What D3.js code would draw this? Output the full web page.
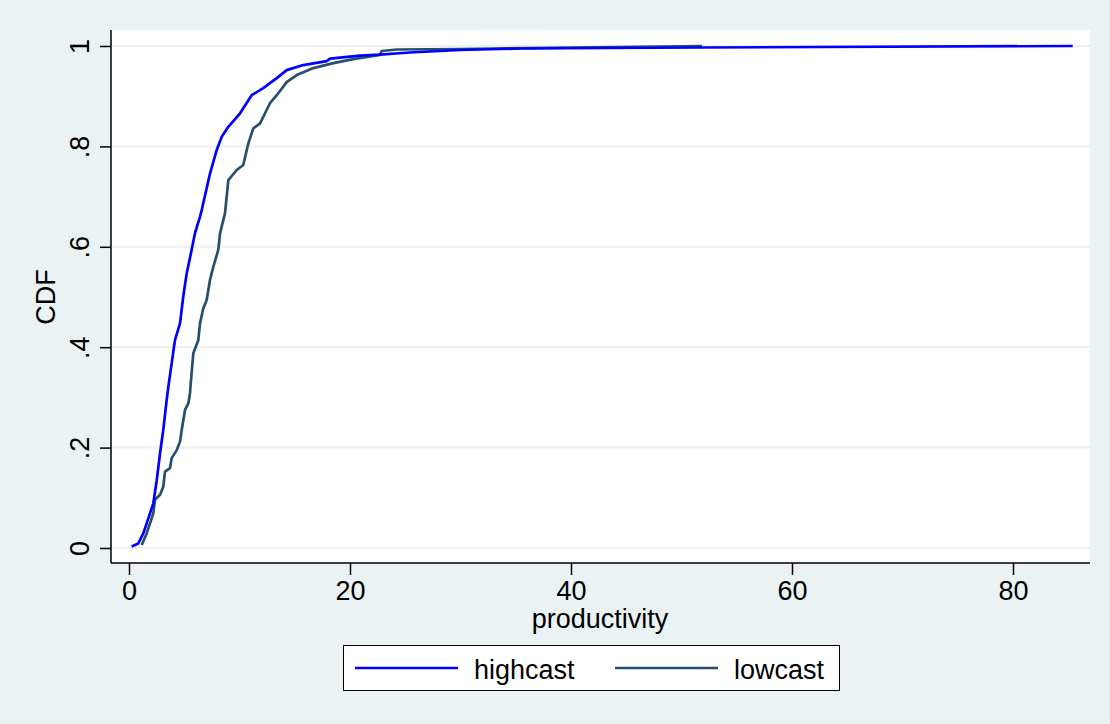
<!DOCTYPE html>
<html><head><meta charset="utf-8">
<script src="https://cdn.jsdelivr.net/npm/d3@7"></script>
<style>body{margin:0;background:#EAF2F3;}svg{display:block;}text{font-family:"Liberation Sans",Arial,sans-serif;fill:#000;}</style>
</head><body>
<svg id="c" width="1110" height="724"></svg>
<script>
const seriesNames = ["highcast", "lowcast"];
const seriesColors = ["#0000FF", "#284E6E"];
const xTicks = [0, 20, 40, 60, 80];
const yTicks = [0, 0.2, 0.4, 0.6, 0.8, 1];
const yTickLabels = ["0", ".2", ".4", ".6", ".8", "1"];
const highcastX = [0.24,0.84,1.29,1.60,1.90,2.20,2.51,2.81,3.10,3.41,3.56,4.16,4.62,4.91,5.22,5.67,5.97,6.43,6.58,7.33,7.94,8.39,8.99,10.05,11.10,12.15,13.37,14.27,15.77,17.89,18.19,20.9,22.7,25.4,29.95,35.4,51.7,85.4];
const highcastY = [0.003,0.009,0.029,0.049,0.069,0.089,0.135,0.189,0.235,0.295,0.321,0.414,0.448,0.501,0.547,0.594,0.627,0.660,0.673,0.746,0.793,0.819,0.839,0.866,0.902,0.916,0.936,0.952,0.962,0.970,0.975,0.981,0.983,0.987,0.992,0.995,0.997,1.0];
const lowcastX = [1.15,1.60,1.90,2.20,2.35,2.81,3.10,3.26,3.71,3.86,4.32,4.62,4.77,5.07,5.37,5.52,5.55,5.82,6.27,6.43,6.72,7.03,7.33,7.63,8.08,8.24,8.69,8.99,9.75,10.34,10.80,11.25,11.86,12.31,12.76,13.37,14.27,15.18,16.68,18.49,20.30,22.71,22.87,24.23,29.95,51.86];
const lowcastY = [0.006,0.029,0.049,0.069,0.096,0.106,0.122,0.152,0.159,0.179,0.195,0.212,0.235,0.275,0.288,0.308,0.318,0.388,0.414,0.448,0.477,0.494,0.534,0.560,0.594,0.627,0.667,0.733,0.753,0.763,0.806,0.836,0.846,0.866,0.886,0.902,0.928,0.942,0.956,0.966,0.974,0.982,0.990,0.993,0.994,1.0];

const FS = 27;
const svg = d3.select("#c");
const plot = {l:111, r:1090, t:30, b:563};
const x = d3.scaleLinear().domain([0, 80]).range([129, 1013]);
const y = d3.scaleLinear().domain([0, 1]).range([548, 46]);

svg.append("rect").attr("x",plot.l).attr("y",plot.t).attr("width",plot.r-plot.l).attr("height",plot.b-plot.t).attr("fill","#fff");

// gridlines
svg.append("g").selectAll("line").data(yTicks).join("line")
  .attr("x1",plot.l).attr("x2",plot.r).attr("y1",d=>y(d)).attr("y2",d=>y(d))
  .attr("stroke","#EAF2F3").attr("stroke-width",2);

// axes
const yAxis = d3.axisLeft(y).tickValues(yTicks).tickSize(11).tickFormat((d,i)=>yTickLabels[i]);
const gy = svg.append("g").attr("transform",`translate(${plot.l},0)`).call(yAxis);
gy.select(".domain").attr("d",`M0,${plot.t}V${plot.b}`).attr("stroke","#000").attr("stroke-width",1.5);
gy.selectAll(".tick line").attr("stroke","#000").attr("stroke-width",1.5);
gy.selectAll(".tick text").attr("font-size",FS).attr("font-family","Liberation Sans, Arial, sans-serif")
  .attr("text-anchor","middle").attr("x",0).attr("dy",0)
  .attr("transform","translate(-22,0) rotate(-90)");

const xAxis = d3.axisBottom(x).tickValues(xTicks).tickSize(12).tickFormat(d3.format("d"));
const gx = svg.append("g").attr("transform",`translate(0,${plot.b})`).call(xAxis);
gx.select(".domain").attr("d",`M${plot.l},0H${plot.r}`).attr("stroke","#000").attr("stroke-width",1.5);
gx.selectAll(".tick line").attr("stroke","#000").attr("stroke-width",1.5);
gx.selectAll(".tick text").attr("font-size",FS).attr("font-family","Liberation Sans, Arial, sans-serif")
  .attr("y",37).attr("dy",0);

// axis titles
svg.append("text").attr("transform","translate(55,297) rotate(-90)").attr("text-anchor","middle")
  .attr("font-size",FS).text("CDF");
svg.append("text").attr("x",600).attr("y",628).attr("text-anchor","middle")
  .attr("font-size",FS).text("productivity");

// lines
const series = [
  highcastX.map((d,i)=>[d, highcastY[i]]),
  lowcastX.map((d,i)=>[d, lowcastY[i]])
];
const line = d3.line().x(d=>x(d[0])).y(d=>y(d[1]));
svg.append("g").selectAll("path").data([1,0]).join("path")
  .attr("d",i=>line(series[i])).attr("fill","none")
  .attr("stroke",i=>seriesColors[i]).attr("stroke-width",2.7).attr("stroke-linejoin","round");

// legend
const lg = svg.append("g");
lg.append("rect").attr("x",343.5).attr("y",645.5).attr("width",496).attr("height",45)
  .attr("fill","#fff").attr("stroke","#000").attr("stroke-width",1);
const lgX = [355, 615];
seriesNames.forEach((n,i)=>{
  lg.append("line").attr("x1",lgX[i]).attr("x2",lgX[i]+103).attr("y1",668).attr("y2",668)
    .attr("stroke",seriesColors[i]).attr("stroke-width",2.7);
  lg.append("text").attr("x",lgX[i]+119).attr("y",679).attr("font-size",FS).text(n);
});
</script>
</body></html>
